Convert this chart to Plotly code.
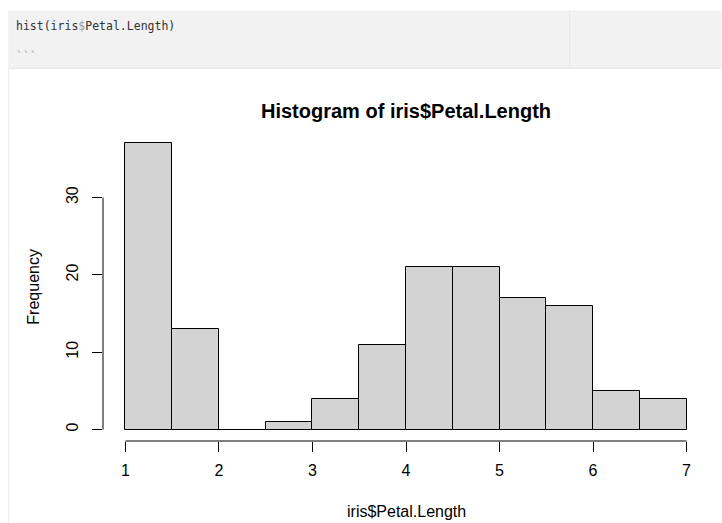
import plotly.graph_objects as go

# ---- data ----
bin_edges = [1.0, 1.5, 2.0, 2.5, 3.0, 3.5, 4.0, 4.5, 5.0, 5.5, 6.0, 6.5, 7.0]
counts = [37, 13, 0, 1, 4, 11, 21, 21, 17, 16, 5, 4]
x_ticks = [1, 2, 3, 4, 5, 6, 7]
y_ticks = [0, 10, 20, 30]
title_text = "Histogram of iris$Petal.Length"
x_label = "iris$Petal.Length"
y_label = "Frequency"
code_line = "hist(iris$Petal.Length)"

centers = [(a + b) / 2 for a, b in zip(bin_edges[:-1], bin_edges[1:])]
widths = [b - a for a, b in zip(bin_edges[:-1], bin_edges[1:])]

# R-style 4% range extension
xr = (bin_edges[0], bin_edges[-1])
xpad = 0.04 * (xr[1] - xr[0])
yr = (0, max(counts))
ypad = 0.04 * (yr[1] - yr[0])

W_FIG, H_FIG = 722, 523
L, R, T, B = 102.5, 709.5, 132.2, 440.7
PW, PH = R - L, B - T


def px(xp):
    return (xp - L) / PW


def py(yp):
    return (B - yp) / PH


fig = go.Figure()
fig.add_trace(go.Bar(
    x=centers, y=counts, width=widths,
    marker=dict(color="#D3D3D3", line=dict(color="#000000", width=1)),
    hoverinfo="x+y", showlegend=False,
))

shapes = []
# notebook code block background
shapes.append(dict(type="rect", xref="paper", yref="paper", layer="below",
                   x0=px(7.5), x1=px(722), y0=py(68.5), y1=py(11),
                   fillcolor="#F2F2F2", line=dict(width=0)))
shapes.append(dict(type="line", xref="paper", yref="paper", layer="below",
                   x0=px(7.5), x1=px(722), y0=py(68.5), y1=py(68.5),
                   line=dict(color="#E3E3E3", width=1)))
shapes.append(dict(type="line", xref="paper", yref="paper", layer="below",
                   x0=px(570), x1=px(570), y0=py(11), y1=py(68),
                   line=dict(color="#E6E6E6", width=1)))
shapes.append(dict(type="line", xref="paper", yref="paper", layer="below",
                   x0=px(8), x1=px(8), y0=py(69), y1=py(523),
                   line=dict(color="#EBEBEB", width=1)))
# R-style axis lines spanning first..last tick
shapes.append(dict(type="line", xref="x", yref="paper",
                   x0=x_ticks[0], x1=x_ticks[-1], y0=0, y1=0,
                   line=dict(color="#000000", width=1)))
shapes.append(dict(type="line", xref="paper", yref="y",
                   x0=0, x1=0, y0=y_ticks[0], y1=y_ticks[-1],
                   line=dict(color="#000000", width=1)))

annotations = [
    dict(text="<b>" + title_text + "</b>", xref="paper", yref="paper",
         x=px(406.5), y=py(111.5), xanchor="center", yanchor="middle",
         showarrow=False, font=dict(family="Liberation Sans", size=20, color="#000000")),
    dict(text=x_label, xref="paper", yref="paper",
         x=px(406.5), y=py(511.5), xanchor="center", yanchor="middle",
         showarrow=False, font=dict(family="Liberation Sans", size=16, color="#000000")),
    dict(text=y_label, xref="paper", yref="paper", textangle=-90,
         x=px(32.5), y=py(286.5), xanchor="center", yanchor="middle",
         showarrow=False, font=dict(family="Liberation Sans", size=16, color="#000000")),
    dict(text=code_line.replace("$", "<span style='color:#9a9a9a'>$</span>"),
         xref="paper", yref="paper",
         x=px(13), y=py(26.5), xanchor="left", yanchor="middle",
         showarrow=False, font=dict(family="DejaVu Sans Mono", size=11.5, color="#333333")),
    dict(text="```", xref="paper", yref="paper",
         x=px(13), y=py(57), xanchor="left", yanchor="middle",
         showarrow=False, font=dict(family="DejaVu Sans Mono", size=11.5, color="#AAAAAA")),
]

fig.update_layout(
    width=W_FIG, height=H_FIG,
    margin=dict(l=L, r=W_FIG - R, t=T, b=H_FIG - B, pad=0),
    paper_bgcolor="#FFFFFF", plot_bgcolor="#FFFFFF",
    bargap=0,
    shapes=shapes, annotations=annotations,
    xaxis=dict(range=[xr[0] - xpad, xr[1] + xpad], tickvals=x_ticks,
               ticktext=[str(v) for v in x_ticks],
               ticks="outside", ticklen=10, tickwidth=1, tickcolor="#000000",
               showline=False, showgrid=False, zeroline=False,
               tickfont=dict(family="Liberation Sans", size=16, color="#000000"),
               ticklabelstandoff=5, fixedrange=True),
    yaxis=dict(range=[yr[0] - ypad, yr[1] + ypad], tickvals=y_ticks,
               ticktext=[str(v) for v in y_ticks], tickangle=-90,
               ticks="outside", ticklen=10, tickwidth=1, tickcolor="#000000",
               showline=False, showgrid=False, zeroline=False,
               tickfont=dict(family="Liberation Sans", size=16, color="#000000"),
               ticklabelstandoff=8, fixedrange=True),
    font=dict(family="Liberation Sans"),
)

fig.write_html("out.html", config={"displayModeBar": False},
               post_script="document.body.style.margin='0';document.body.style.overflow='hidden';")
